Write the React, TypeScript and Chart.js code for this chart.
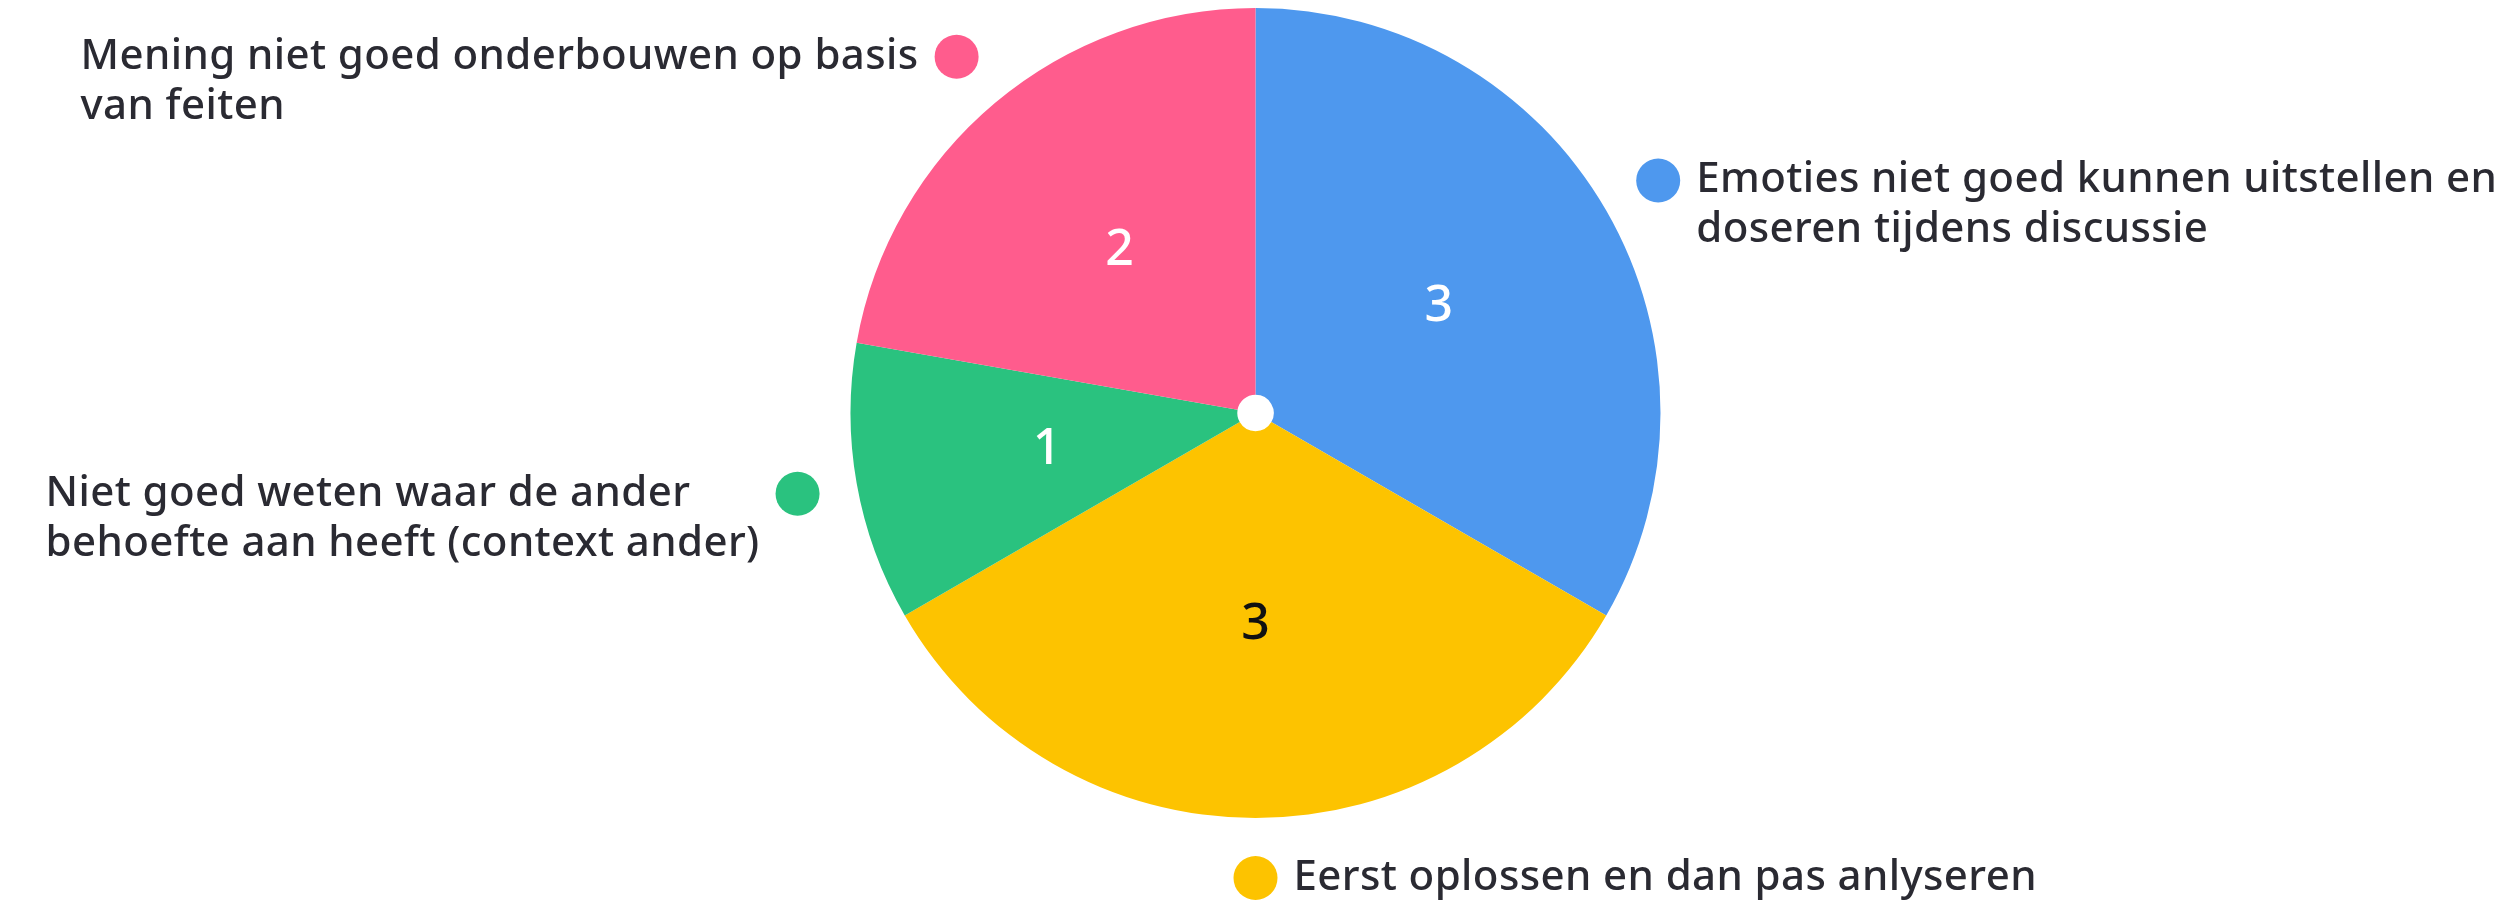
import React, { useEffect, useRef } from "react";
import { Chart, registerables } from "chart.js";

Chart.register(...registerables);

const categories: string[][] = [
  ["Emoties niet goed kunnen uitstellen en", "doseren tijdens discussie"],
  ["Eerst oplossen en dan pas anlyseren"],
  ["Niet goed weten waar de ander", "behoefte aan heeft (context ander)"],
  ["Mening niet goed onderbouwen op basis", "van feiten"],
];
const values: number[] = [3, 3, 1, 2];
const sliceColors: string[] = ["#4e98ee", "#fdc300", "#2ac27f", "#ff5c8d"];
const valueTextColors: string[] = ["#ffffff", "#111111", "#ffffff", "#ffffff"];

const FONT = '"Noto Sans", sans-serif';

const labelPlugin = {
  id: "menti-labels",
  afterDatasetsDraw(chart: any) {
    const ctx = chart.ctx as CanvasRenderingContext2D;
    const meta = chart.getDatasetMeta(0);
    meta.data.forEach((arc: any, i: number) => {
      const p = arc.getProps(["x", "y", "startAngle", "endAngle", "innerRadius", "outerRadius"], true);
      const mid = (p.startAngle + p.endAngle) / 2;
      const cos = Math.cos(mid);
      const sin = Math.sin(mid);
      // value inside the slice
      const vr = (p.innerRadius + p.outerRadius) / 2;
      ctx.save();
      ctx.font = `500 50px ${FONT}`;
      ctx.fillStyle = valueTextColors[i];
      ctx.textAlign = "center";
      ctx.textBaseline = "middle";
      ctx.fillText(String(values[i]), p.x + vr * cos, p.y + vr * sin);
      // outer dot and label
      const dr = p.outerRadius + 60;
      const dx = p.x + dr * cos;
      const dy = p.y + dr * sin;
      const dotR = 22;
      ctx.beginPath();
      ctx.arc(dx, dy, dotR, 0, Math.PI * 2);
      ctx.fillStyle = sliceColors[i];
      ctx.fill();
      ctx.font = `500 42px ${FONT}`;
      (ctx as any).letterSpacing = "0.4px";
      ctx.fillStyle = "#2a2a32";
      ctx.textAlign = "left";
      const lines = categories[i];
      const maxW = Math.max(...lines.map((l) => ctx.measureText(l).width));
      const gap = 16;
      const tx = cos < -0.01 ? dx - dotR - gap - maxW : dx + dotR + gap;
      lines.forEach((l, k) => {
        ctx.fillText(l, tx, dy + k * 50);
      });
      ctx.restore();
    });
  },
};

export default function App() {
  const ref = useRef<HTMLCanvasElement | null>(null);
  useEffect(() => {
    if (!ref.current) return;
    const chart = new Chart(ref.current, {
      type: "doughnut",
      data: {
        labels: categories,
        datasets: [
          {
            data: values,
            backgroundColor: sliceColors,
            borderWidth: 0,
          },
        ],
      },
      options: {
        animation: false,
        responsive: true,
        maintainAspectRatio: false,
        cutout: "4.5%",
        layout: { padding: { top: 8, bottom: 88 } },
        plugins: {
          legend: { display: false },
          tooltip: { enabled: false },
        },
      },
      plugins: [labelPlugin],
    });
    return () => chart.destroy();
  }, []);
  return (
    <div style={{ position: "fixed", left: 0, top: 0, width: "2511px", height: "906px", background: "#ffffff" }}>
      <canvas ref={ref} />
    </div>
  );
}
